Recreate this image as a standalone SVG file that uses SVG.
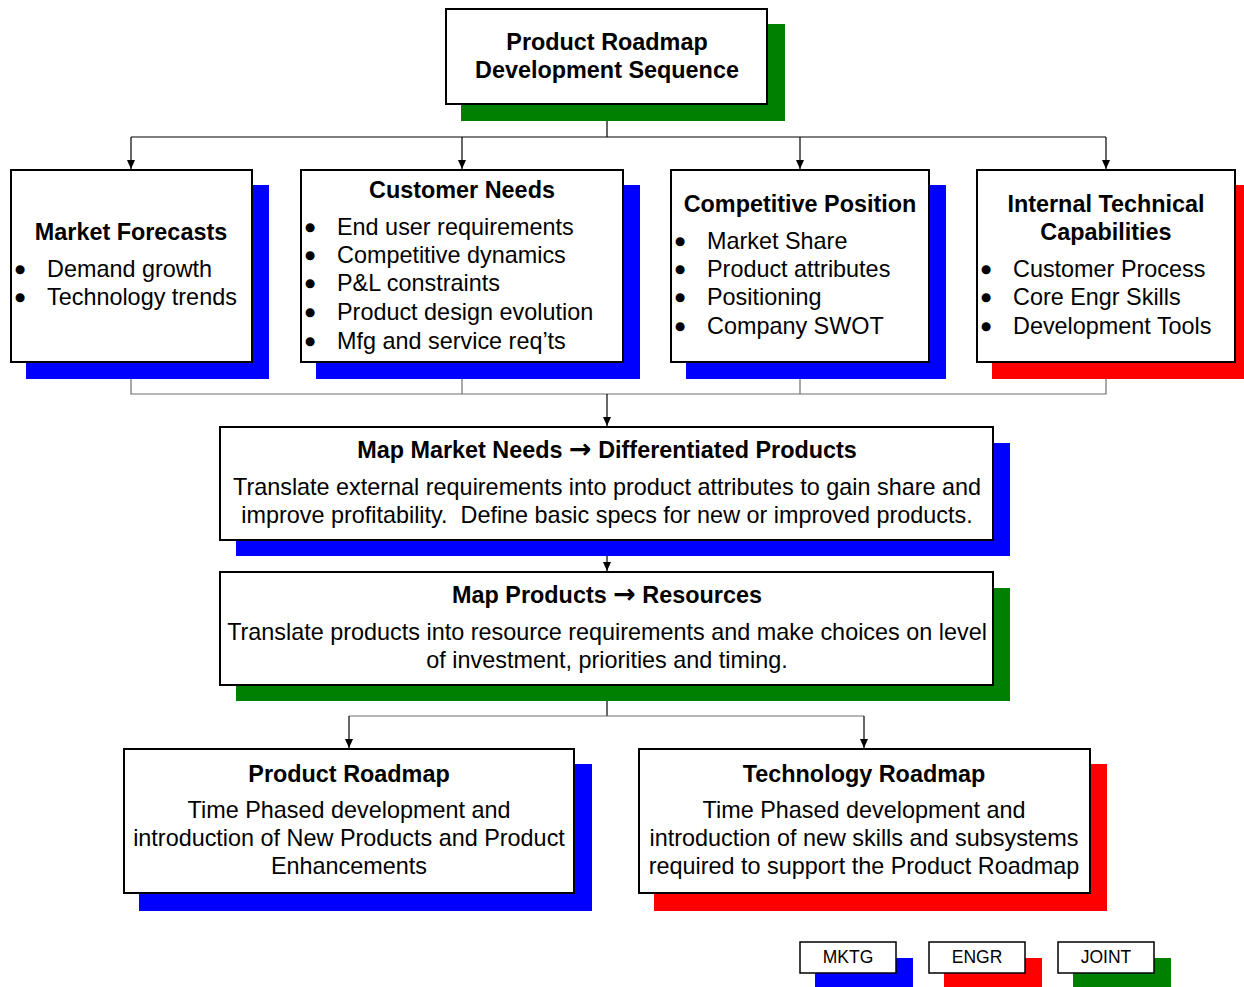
<svg xmlns="http://www.w3.org/2000/svg" width="1244" height="987" viewBox="0 0 1244 987">
<style>
.box{fill:#fff;stroke:#000;stroke-width:2}
.sb{fill:#0000ff}
.sr{fill:#ff0000}
.sg{fill:#008000}
text{font-family:"Liberation Sans",Arial,sans-serif;font-size:23.4px;fill:#000;white-space:pre}
.t{font-weight:bold;text-anchor:middle}
.c{text-anchor:middle}
.b{stroke:#000;stroke-width:2.6px}
.ar{font-family:"DejaVu Sans",sans-serif;font-weight:bold;font-size:27px}
.lg{font-size:17.5px;text-anchor:middle}
.ln{fill:none;stroke:#000;stroke-width:1.2}
.lg2{fill:none;stroke:#6e6e6e;stroke-width:1.2}
</style>
<defs>
<marker id="ah" markerWidth="10" markerHeight="10" refX="9" refY="5" orient="auto" markerUnits="userSpaceOnUse">
<path d="M0,1 L9,5 L0,9 Z" fill="#000"/>
</marker>
</defs>
<rect width="1244" height="987" fill="#fff"/>

<g id="connectors">
<path class="ln" d="M607,104 V137 M131,137 H1106"/>
<path class="ln" d="M131,137 V169" marker-end="url(#ah)"/>
<path class="ln" d="M462,137 V169" marker-end="url(#ah)"/>
<path class="ln" d="M800,137 V169" marker-end="url(#ah)"/>
<path class="ln" d="M1106,137 V169" marker-end="url(#ah)"/>
<path class="lg2" d="M131,362 V394 H1106 V362 M462,362 V394 M800,362 V394"/>
<path class="ln" d="M607,394 V426" marker-end="url(#ah)"/>
<path class="ln" d="M607,540 V571" marker-end="url(#ah)"/>
<path class="ln" d="M607,685 V716"/>
<path class="lg2" d="M349,716 H864"/>
<path class="ln" d="M349,716 V748" marker-end="url(#ah)"/>
<path class="ln" d="M864,716 V748" marker-end="url(#ah)"/>
</g>

<g id="n-top">
<rect class="sg" x="461" y="24" width="324" height="97"/>
<rect class="box" x="446" y="9" width="321" height="95"/>
<text class="t" x="607" y="50">Product Roadmap</text>
<text class="t" x="607" y="78">Development Sequence</text>
</g>

<g id="n-market">
<rect class="sb" x="26" y="185" width="243" height="194"/>
<rect class="box" x="11" y="170" width="241" height="192"/>
<text class="t" x="131" y="240">Market Forecasts</text>
<text class="b" x="16" y="278">•</text><text x="47" y="277">Demand growth</text>
<text class="b" x="16" y="306">•</text><text x="47" y="305">Technology trends</text>
</g>

<g id="n-customer">
<rect class="sb" x="316" y="185" width="324" height="194"/>
<rect class="box" x="301" y="170" width="322" height="192"/>
<text class="t" x="462" y="198">Customer Needs</text>
<text class="b" x="306" y="236">•</text><text x="337" y="235">End user requirements</text>
<text class="b" x="306" y="264">•</text><text x="337" y="263">Competitive dynamics</text>
<text class="b" x="306" y="292">•</text><text x="337" y="291">P&amp;L constraints</text>
<text class="b" x="306" y="321">•</text><text x="337" y="320">Product design evolution</text>
<text class="b" x="306" y="350">•</text><text x="337" y="349">Mfg and service req’ts</text>
</g>

<g id="n-competitive">
<rect class="sb" x="686" y="185" width="260" height="194"/>
<rect class="box" x="671" y="170" width="258" height="192"/>
<text class="t" x="800" y="212">Competitive Position</text>
<text class="b" x="676" y="250">•</text><text x="707" y="249">Market Share</text>
<text class="b" x="676" y="278">•</text><text x="707" y="277">Product attributes</text>
<text class="b" x="676" y="306">•</text><text x="707" y="305">Positioning</text>
<text class="b" x="676" y="335">•</text><text x="707" y="334">Company SWOT</text>
</g>

<g id="n-internal">
<rect class="sr" x="992" y="185" width="252" height="194"/>
<rect class="box" x="977" y="170" width="258" height="192"/>
<text class="t" x="1106" y="212">Internal Technical</text>
<text class="t" x="1106" y="240">Capabilities</text>
<text class="b" x="982" y="278">•</text><text x="1013" y="277">Customer Process</text>
<text class="b" x="982" y="306">•</text><text x="1013" y="305">Core Engr Skills</text>
<text class="b" x="982" y="335">•</text><text x="1013" y="334">Development Tools</text>
</g>

<g id="n-mapneeds">
<rect class="sb" x="236" y="443" width="774" height="113"/>
<rect class="box" x="220" y="427" width="773" height="113"/>
<text class="t" x="607" y="458">Map Market Needs <tspan class="ar">→</tspan> Differentiated Products</text>
<text class="c" x="607" y="495">Translate external requirements into product attributes to gain share and</text>
<text class="c" x="607" y="523">improve profitability.  Define basic specs for new or improved products.</text>
</g>

<g id="n-mapproducts">
<rect class="sg" x="236" y="588" width="774" height="113"/>
<rect class="box" x="220" y="572" width="773" height="113"/>
<text class="t" x="607" y="603">Map Products <tspan class="ar">→</tspan> Resources</text>
<text class="c" x="607" y="640">Translate products into resource requirements and make choices on level</text>
<text class="c" x="607" y="668">of investment, priorities and timing.</text>
</g>

<g id="n-productroadmap">
<rect class="sb" x="139" y="764" width="453" height="147"/>
<rect class="box" x="124" y="749" width="450" height="144"/>
<text class="t" x="349" y="782">Product Roadmap</text>
<text class="c" x="349" y="818">Time Phased development and</text>
<text class="c" x="349" y="846">introduction of New Products and Product</text>
<text class="c" x="349" y="874">Enhancements</text>
</g>

<g id="n-techroadmap">
<rect class="sr" x="654" y="764" width="453" height="147"/>
<rect class="box" x="639" y="749" width="451" height="144"/>
<text class="t" x="864" y="782">Technology Roadmap</text>
<text class="c" x="864" y="818">Time Phased development and</text>
<text class="c" x="864" y="846">introduction of new skills and subsystems</text>
<text class="c" x="864" y="874">required to support the Product Roadmap</text>
</g>

<g id="legend-mktg">
<rect class="sb" x="815" y="958" width="98" height="29"/>
<rect x="800" y="942" width="96" height="31" fill="#fff" stroke="#000" stroke-width="1.5"/>
<text class="lg" x="848" y="963">MKTG</text>
</g>
<g id="legend-engr">
<rect class="sr" x="944" y="958" width="98" height="29"/>
<rect x="929" y="942" width="96" height="31" fill="#fff" stroke="#000" stroke-width="1.5"/>
<text class="lg" x="977" y="963">ENGR</text>
</g>
<g id="legend-joint">
<rect class="sg" x="1073" y="958" width="98" height="29"/>
<rect x="1058" y="942" width="96" height="31" fill="#fff" stroke="#000" stroke-width="1.5"/>
<text class="lg" x="1106" y="963">JOINT</text>
</g>
</svg>
